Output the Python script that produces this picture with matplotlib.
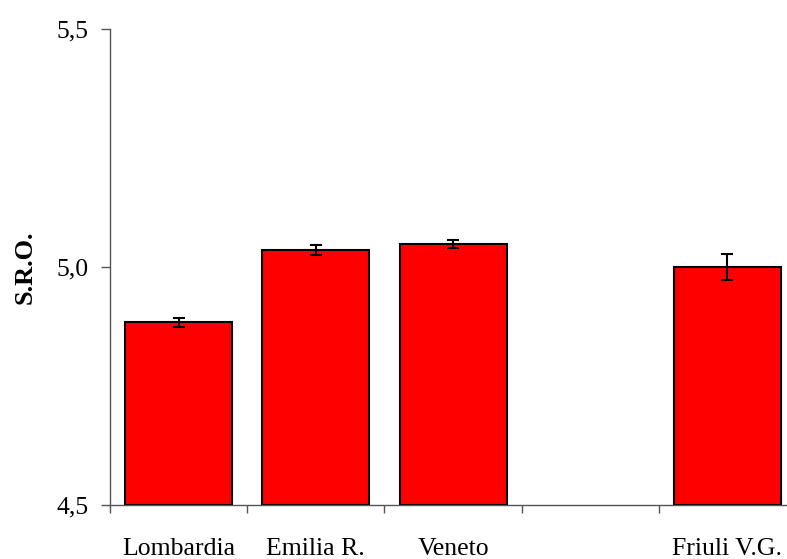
import matplotlib
matplotlib.use("Agg")
import matplotlib.pyplot as plt
import numpy as np

# Regional S.R.O. means with standard errors (one empty slot between Veneto and Friuli)
categories = ["Lombardia", "Emilia R.", "Veneto", "", "Friuli V.G."]
values = [4.884, 5.036, 5.048, None, 5.000]
errors = [0.009, 0.011, 0.009, None, 0.027]
y_ticks = [4.5, 5.0, 5.5]
y_tick_labels = ["4,5", "5,0", "5,5"]

plt.rcParams["font.family"] = ["Liberation Serif", "DejaVu Serif"]

fig = plt.figure(figsize=(7.87, 5.59), dpi=100)
ax = fig.add_axes([0.1398, 0.0966, 0.8717, 0.8515])

base = 4.5
xs = [i for i, v in enumerate(values) if v is not None]
vals = [values[i] for i in xs]
errs = [errors[i] for i in xs]

ax.bar(xs, [v - base for v in vals], bottom=base, width=0.78,
       color="#ff0000", edgecolor="black", linewidth=1.5, zorder=2)
ax.errorbar(xs, vals, yerr=errs, fmt="none", ecolor="black",
            elinewidth=1.5, capsize=4.6, capthick=1.5, zorder=3)

ax.set_xlim(-0.5, len(categories) - 0.5)
ax.set_ylim(4.5, 5.5)

# y axis
ax.set_yticks(y_ticks)
ax.set_yticklabels(y_tick_labels, fontsize=18.5)
ax.tick_params(axis="y", direction="out", length=6.5, width=1, color="#555555", pad=9)

# x axis: boundary ticks as majors, labels on minor ticks at the bar centres
ax.set_xticks(np.arange(-0.5, len(categories) + 0.5, 1.0))
ax.set_xticklabels([])
ax.set_xticks(np.arange(len(categories)), minor=True)
ax.set_xticklabels(categories, minor=True, fontsize=18.5)
ax.tick_params(axis="x", which="major", direction="out", length=6, width=1, color="#555555")
ax.tick_params(axis="x", which="minor", length=0, pad=24)

for side in ("top", "right"):
    ax.spines[side].set_visible(False)
for side in ("left", "bottom"):
    ax.spines[side].set_color("#555555")
    ax.spines[side].set_linewidth(1)

ax.set_ylabel("S.R.O.", fontsize=19, fontweight="bold", labelpad=14)

fig.savefig("out.png", dpi=100)
